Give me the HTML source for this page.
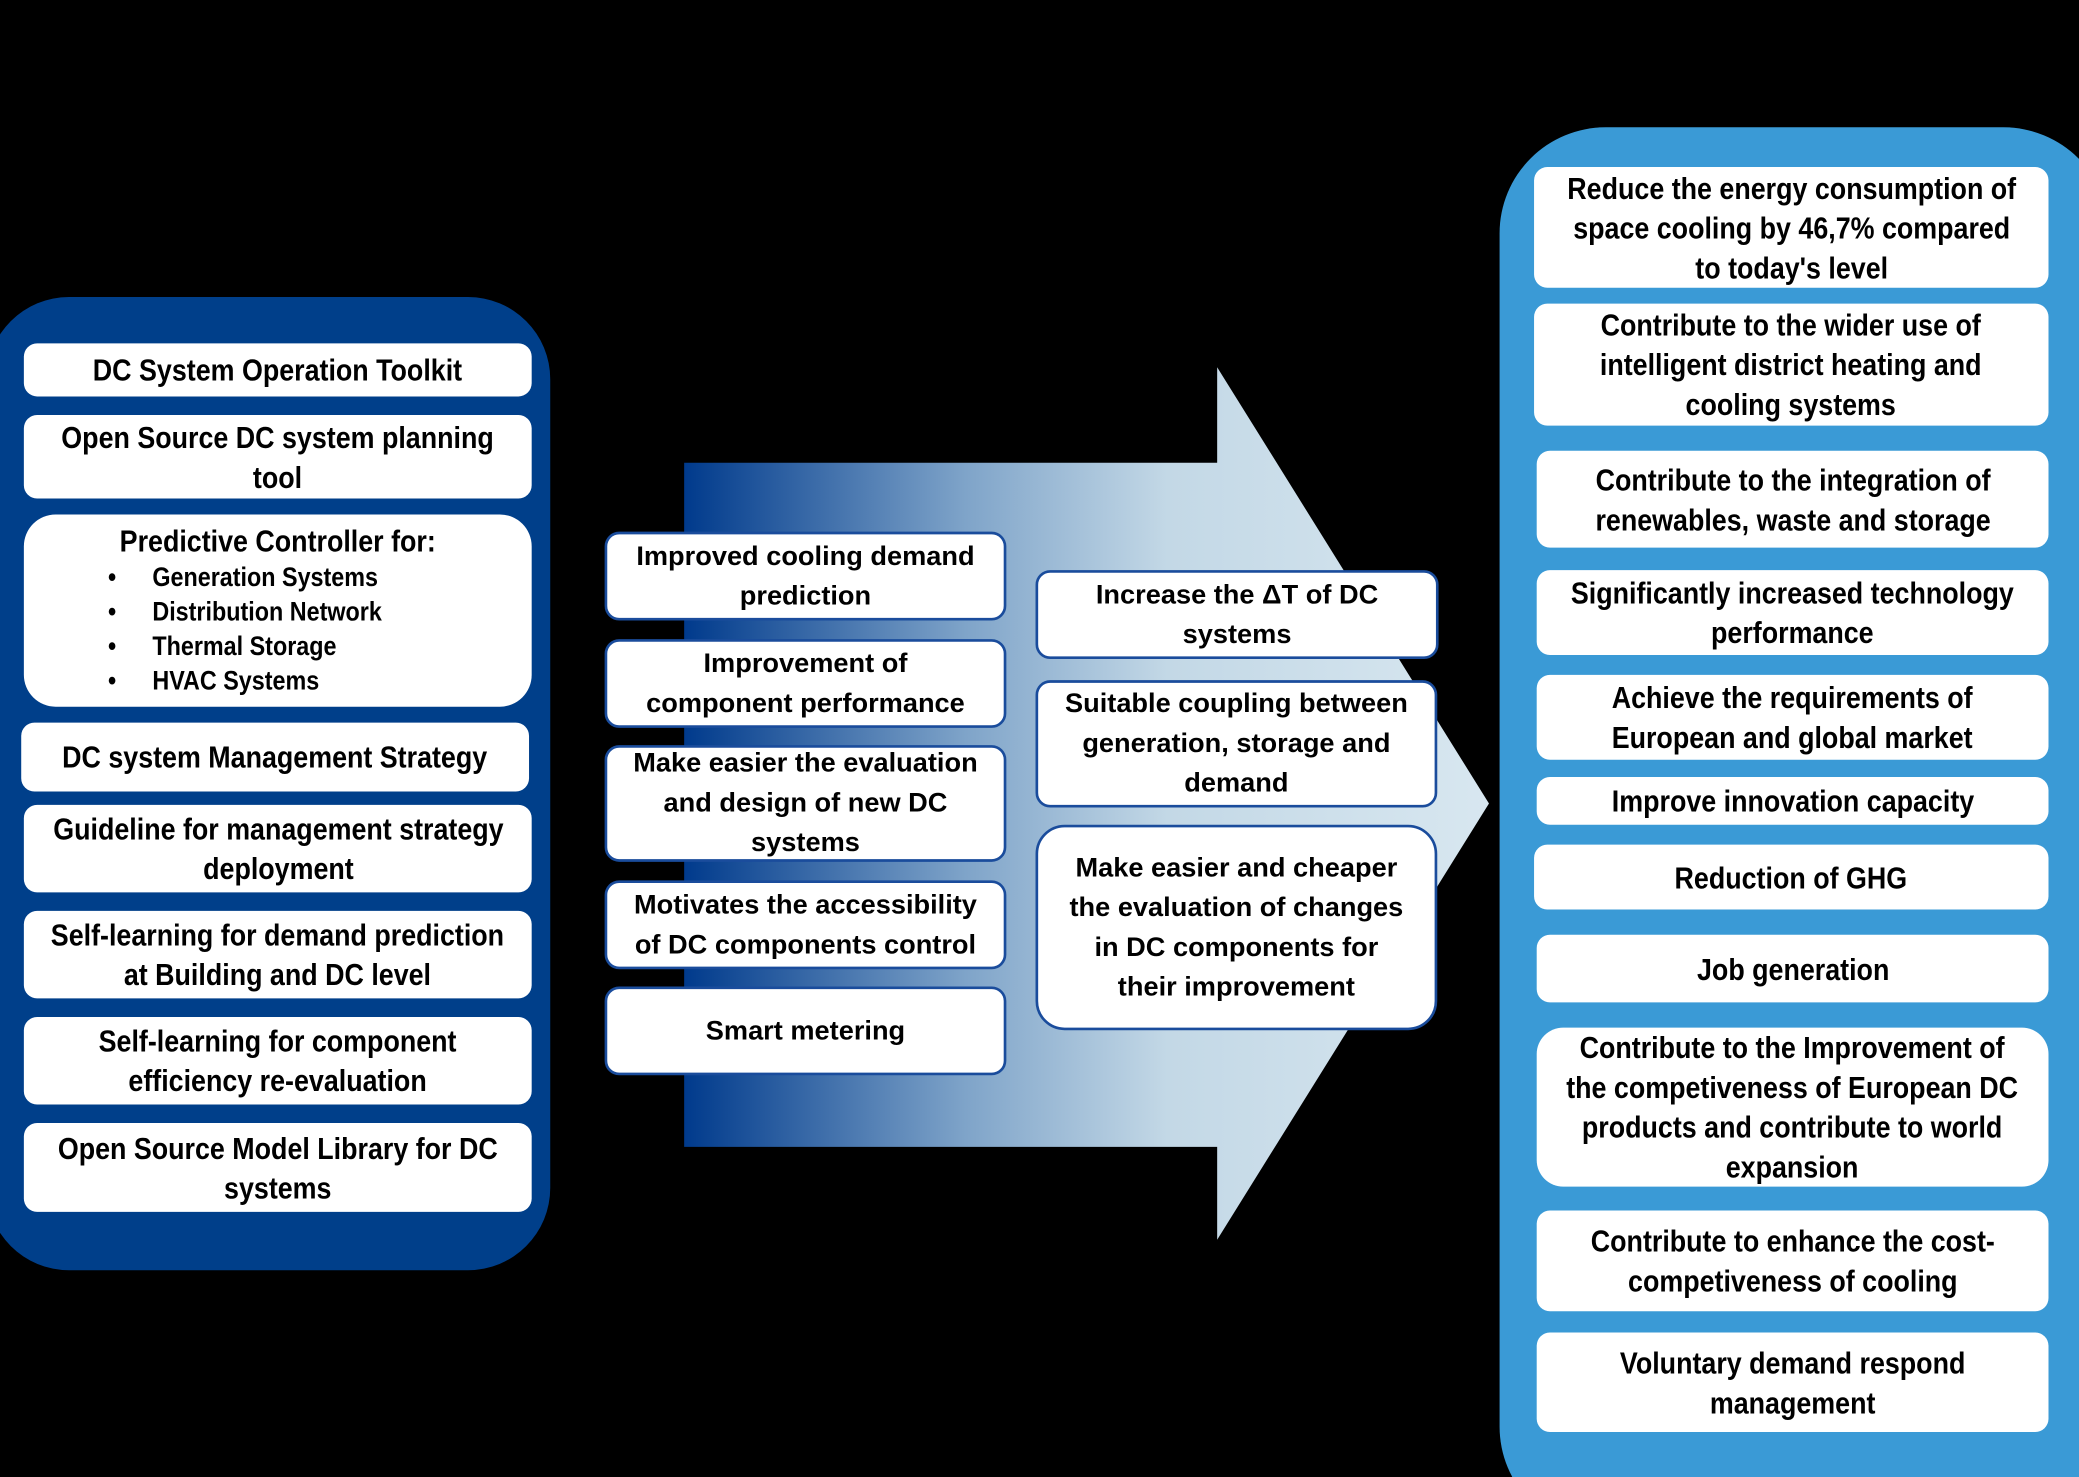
<!DOCTYPE html>
<html><head><meta charset="utf-8"><style>
html,body{margin:0;padding:0;background:#000;width:2079px;height:1477px;overflow:hidden}
#w{position:absolute;left:0;top:0;width:1568px;height:1114px;transform:scale(1.32589);transform-origin:0 0}
.b{position:absolute;background:#fff;display:flex;align-items:center;justify-content:center;text-align:center;box-sizing:border-box;font-weight:bold;color:#000;line-height:30px;white-space:nowrap}
.n{font-family:"Liberation Sans",sans-serif;font-size:23px;border-radius:10px}
.n>span{display:inline-block;transform:scaleX(0.88)}
.m{font-family:"Liberation Sans",sans-serif;font-size:20.5px;border:2.5px solid #1a4c9c;border-radius:11px;line-height:30px}
</style></head><body><div id="w">
<svg width="1568" height="1114" style="position:absolute;left:0;top:0">
<defs><linearGradient id="g" x1="516" y1="0" x2="1123" y2="0" gradientUnits="userSpaceOnUse">
<stop offset="0" stop-color="#003a8c"/><stop offset="0.35" stop-color="#7fa4c9"/><stop offset="0.6" stop-color="#c3d8e6"/><stop offset="1" stop-color="#d8e7f0"/></linearGradient></defs>
<rect x="-10" y="224" width="425" height="734" rx="62" fill="#003f8a"/>
<rect x="1131" y="96" width="460" height="1060" rx="80" fill="#3a9ad6"/>
<polygon points="516,349 918,349 918,277 1123,606 918,935 918,865 516,865" fill="url(#g)"/>
</svg>
<div class="b n" style="left:18px;top:259px;width:383px;height:40px"><span>DC System Operation Toolkit</span></div>
<div class="b n" style="left:18px;top:313px;width:383px;height:63px"><span>Open Source DC system planning<br>tool</span></div>
<div class="b n" style="left:18px;top:388px;width:383px;height:145px;border-radius:24px;line-height:26px"><span>
<div style="margin-bottom:2px">Predictive Controller for:</div>
<div style="font-size:20px;text-align:left;width:250px;margin-left:-10px">
<div><span style="display:inline-block;width:38px">•</span>Generation Systems</div>
<div><span style="display:inline-block;width:38px">•</span>Distribution Network</div>
<div><span style="display:inline-block;width:38px">•</span>Thermal Storage</div>
<div><span style="display:inline-block;width:38px">•</span>HVAC Systems</div></div></span></div>
<div class="b n" style="left:16px;top:545px;width:383px;height:52px"><span>DC system Management Strategy</span></div>
<div class="b n" style="left:18px;top:607px;width:383px;height:66px"><span>Guideline for management strategy<br>deployment</span></div>
<div class="b n" style="left:18px;top:687px;width:383px;height:66px"><span>Self-learning for demand prediction<br>at Building and DC level</span></div>
<div class="b n" style="left:18px;top:767px;width:383px;height:66px"><span>Self-learning for component<br>efficiency re-evaluation</span></div>
<div class="b n" style="left:18px;top:847px;width:383px;height:67px"><span>Open Source Model Library for DC<br>systems</span></div>

<div class="b m" style="left:456px;top:401px;width:303px;height:67px">Improved cooling demand<br>prediction</div>
<div class="b m" style="left:456px;top:482px;width:303px;height:67px">Improvement of<br>component performance</div>
<div class="b m" style="left:456px;top:562px;width:303px;height:88px">Make easier the evaluation<br>and design of new DC<br>systems</div>
<div class="b m" style="left:456px;top:664px;width:303px;height:67px">Motivates the accessibility<br>of DC components control</div>
<div class="b m" style="left:456px;top:744px;width:303px;height:67px">Smart metering</div>
<div class="b m" style="left:781px;top:430px;width:304px;height:67px">Increase the ΔT of DC<br>systems</div>
<div class="b m" style="left:781px;top:513px;width:303px;height:96px">Suitable coupling between<br>generation, storage and<br>demand</div>
<div class="b m" style="left:781px;top:622px;width:303px;height:155px;border-radius:22px">Make easier and cheaper<br>the evaluation of changes<br>in DC components for<br>their improvement</div>

<div class="b n" style="left:1157px;top:126px;width:388px;height:91px"><span>Reduce the energy consumption of<br>space cooling by 46,7% compared<br>to today's level</span></div>
<div class="b n" style="left:1157px;top:229px;width:388px;height:92px"><span>Contribute to the wider use of<br>intelligent district heating and<br>cooling systems</span></div>
<div class="b n" style="left:1159px;top:340px;width:386px;height:73px"><span>Contribute to the integration of<br>renewables, waste and storage</span></div>
<div class="b n" style="left:1159px;top:430px;width:386px;height:64px"><span>Significantly increased technology<br>performance</span></div>
<div class="b n" style="left:1159px;top:509px;width:386px;height:64px"><span>Achieve the requirements of<br>European and global market</span></div>
<div class="b n" style="left:1159px;top:586px;width:386px;height:36px"><span>Improve innovation capacity</span></div>
<div class="b n" style="left:1157px;top:637px;width:388px;height:49px"><span>Reduction of GHG</span></div>
<div class="b n" style="left:1159px;top:705px;width:386px;height:51px"><span>Job generation</span></div>
<div class="b n" style="left:1159px;top:775px;width:386px;height:120px;border-radius:20px"><span>Contribute to the Improvement of<br>the competiveness of European DC<br>products and contribute to world<br>expansion</span></div>
<div class="b n" style="left:1159px;top:913px;width:386px;height:76px"><span>Contribute to enhance the cost-<br>competiveness of cooling</span></div>
<div class="b n" style="left:1159px;top:1005px;width:386px;height:75px"><span>Voluntary demand respond<br>management</span></div>
</div></body></html>
